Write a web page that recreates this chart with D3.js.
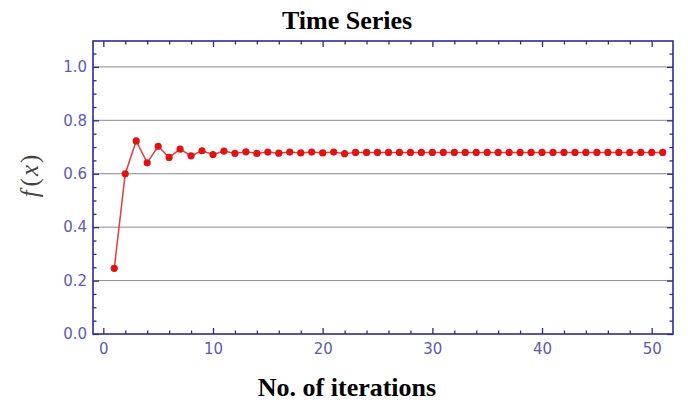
<!DOCTYPE html>
<html>
<head>
<meta charset="utf-8">
<script src="https://cdn.jsdelivr.net/npm/d3@7"></script>
<style>
  body { margin: 0; background: #fff; }
</style>
</head>
<body>
<div id="chart"></div>
<script>
// Iteration numbers and f(x) values
const iterations = d3.range(1, 52);
const values = [
  0.246, 0.600, 0.723, 0.641, 0.703, 0.661, 0.692, 0.667, 0.686, 0.672,
  0.685, 0.676, 0.682, 0.676, 0.681, 0.677, 0.681, 0.678, 0.681, 0.678,
  0.681, 0.675, 0.680, 0.680, 0.680, 0.680, 0.680, 0.680, 0.680, 0.680,
  0.680, 0.680, 0.680, 0.680, 0.680, 0.680, 0.680, 0.680, 0.680, 0.680,
  0.680, 0.680, 0.680, 0.680, 0.680, 0.680, 0.680, 0.680, 0.680, 0.680,
  0.680
];
const xTicks = [0, 10, 20, 30, 40, 50];
const yTicks = [0.0, 0.2, 0.4, 0.6, 0.8, 1.0];
const gridValues = [0.2, 0.4, 0.6, 0.8, 1.0];

const width = 688, height = 405;
const margin = {top: 41, right: 15, bottom: 71, left: 93};

const svg = d3.select("#chart").append("svg")
  .attr("width", width)
  .attr("height", height);

const x = d3.scaleLinear()
  .domain([-0.94, 51.94])
  .range([margin.left, width - margin.right]);

const y = d3.scaleLinear()
  .domain([0, 1.097])
  .range([height - margin.bottom, margin.top]);

const frameColor = "#2b2b96";
const labelColor = "#5c5cae";

// Grid lines
svg.append("g")
  .selectAll("line")
  .data(gridValues)
  .join("line")
    .attr("x1", x.range()[0])
    .attr("x2", x.range()[1])
    .attr("y1", d => y(d))
    .attr("y2", d => y(d))
    .style("stroke", "#8a8a8a")
    .style("stroke-width", 1);

// Axes with major + minor ticks (Mathematica style frame)
function styleAxis(g) {
  g.select(".domain").remove();
  g.selectAll(".tick line").style("stroke", frameColor).style("stroke-width", 1.3);
  g.selectAll(".tick text")
    .style("fill", labelColor)
    .style("font-family", "Verdana, 'DejaVu Sans', sans-serif")
    .style("font-size", "15px");
}

const xMinor = d3.range(0, 52, 2).filter(d => d % 10 !== 0);
const yMinor = d3.range(0, 1.1, 0.05).map(d => +d.toFixed(2)).filter(d => Math.round(d * 100) % 20 !== 0);

// bottom
svg.append("g")
  .attr("transform", `translate(0,${y.range()[0]})`)
  .call(d3.axisBottom(x).tickValues(xTicks).tickSize(-6).tickPadding(9).tickFormat(d3.format("d")))
  .call(styleAxis);
svg.append("g")
  .attr("transform", `translate(0,${y.range()[0]})`)
  .call(d3.axisBottom(x).tickValues(xMinor).tickSize(-3.5).tickFormat(""))
  .call(styleAxis);
// top
svg.append("g")
  .attr("transform", `translate(0,${y.range()[1]})`)
  .call(d3.axisTop(x).tickValues(xTicks).tickSize(-6).tickFormat(""))
  .call(styleAxis);
svg.append("g")
  .attr("transform", `translate(0,${y.range()[1]})`)
  .call(d3.axisTop(x).tickValues(xMinor).tickSize(-3.5).tickFormat(""))
  .call(styleAxis);
// left
svg.append("g")
  .attr("transform", `translate(${x.range()[0]},0)`)
  .call(d3.axisLeft(y).tickValues(yTicks).tickSize(-6).tickPadding(6).tickFormat(d3.format(".1f")))
  .call(styleAxis);
svg.append("g")
  .attr("transform", `translate(${x.range()[0]},0)`)
  .call(d3.axisLeft(y).tickValues(yMinor).tickSize(-3.5).tickFormat(""))
  .call(styleAxis);
// right
svg.append("g")
  .attr("transform", `translate(${x.range()[1]},0)`)
  .call(d3.axisRight(y).tickValues(yTicks).tickSize(-6).tickFormat(""))
  .call(styleAxis);
svg.append("g")
  .attr("transform", `translate(${x.range()[1]},0)`)
  .call(d3.axisRight(y).tickValues(yMinor).tickSize(-3.5).tickFormat(""))
  .call(styleAxis);

// Frame
svg.append("rect")
  .attr("x", x.range()[0])
  .attr("y", y.range()[1])
  .attr("width", x.range()[1] - x.range()[0])
  .attr("height", y.range()[0] - y.range()[1])
  .style("fill", "none")
  .style("stroke", frameColor)
  .style("stroke-width", 1.6);

// Series line
const data = iterations.map((it, i) => ({it, v: values[i]}));
svg.append("path")
  .datum(data)
  .attr("d", d3.line().x(d => x(d.it)).y(d => y(d.v)))
  .style("fill", "none")
  .style("stroke", "#e23c3c")
  .style("stroke-width", 1.5);

// Points
svg.append("g")
  .selectAll("circle")
  .data(data)
  .join("circle")
    .attr("cx", d => x(d.it))
    .attr("cy", d => y(d.v))
    .attr("r", 3.6)
    .style("fill", "#e01212");

// Title
svg.append("text")
  .attr("x", 347)
  .attr("y", 29)
  .attr("text-anchor", "middle")
  .style("font-family", "'Liberation Serif', 'Times New Roman', serif")
  .style("font-weight", "bold")
  .style("font-size", "26px")
  .text("Time Series");

// X label
svg.append("text")
  .attr("x", 347)
  .attr("y", 396)
  .attr("text-anchor", "middle")
  .style("font-family", "'Liberation Serif', 'Times New Roman', serif")
  .style("font-weight", "bold")
  .style("font-size", "26px")
  .text("No. of iterations");

// Y label: f(x) in traditional form
const yLab = svg.append("text")
  .attr("transform", "translate(38,176) rotate(-90)")
  .attr("text-anchor", "middle")
  .style("font-family", "'Liberation Serif', 'Times New Roman', serif")
  .style("font-size", "25px")
  .style("fill", "#444");
yLab.append("tspan").style("font-style", "italic").text("f");
yLab.append("tspan").attr("dx", 4).text("(");
yLab.append("tspan").attr("dx", 2).style("font-style", "italic").text("x");
yLab.append("tspan").attr("dx", 2).text(")");
</script>
</body>
</html>
